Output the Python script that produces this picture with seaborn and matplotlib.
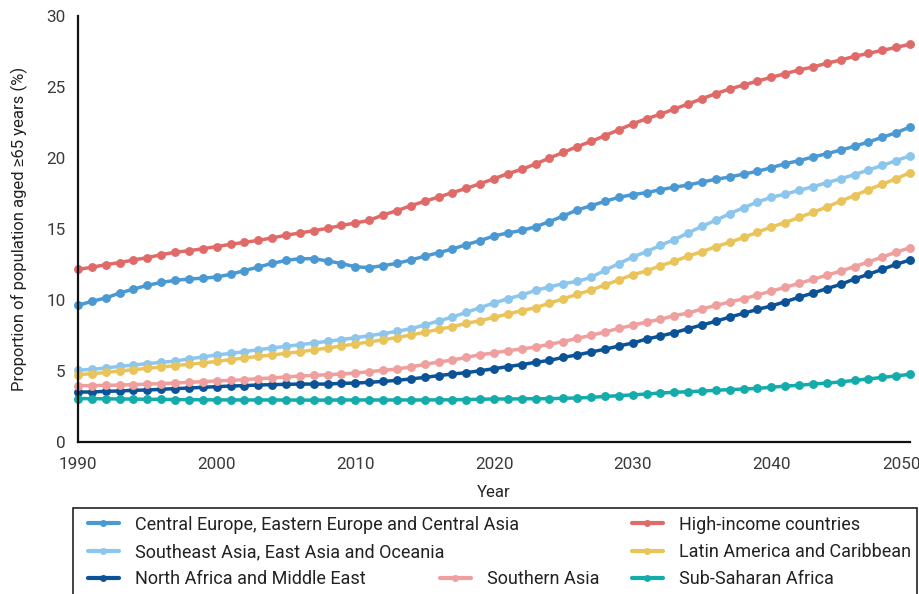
import matplotlib
matplotlib.use("Agg")
import matplotlib.pyplot as plt
from matplotlib.lines import Line2D
from matplotlib.patches import Rectangle
from matplotlib.transforms import ScaledTranslation
import numpy as np
import pandas as pd
import seaborn as sns

years = list(range(1990, 2051))

regions = [
    "Central Europe, Eastern Europe and Central Asia",
    "High-income countries",
    "Southeast Asia, East Asia and Oceania",
    "Latin America and Caribbean",
    "North Africa and Middle East",
    "Southern Asia",
    "Sub-Saharan Africa",
]

central_europe = [
    9.62, 9.91, 10.14, 10.49, 10.77, 11.03, 11.24, 11.38, 11.48, 11.53,
    11.62, 11.81, 12.07, 12.32, 12.58, 12.79, 12.91, 12.91, 12.75, 12.57,
    12.34, 12.28, 12.42, 12.58, 12.82, 13.08, 13.33, 13.59, 13.90, 14.18,
    14.51, 14.72, 14.90, 15.16, 15.52, 15.92, 16.34, 16.64, 16.95, 17.23,
    17.42, 17.56, 17.77, 17.94, 18.10, 18.31, 18.50, 18.66, 18.87, 19.06,
    19.32, 19.60, 19.81, 20.07, 20.30, 20.56, 20.82, 21.13, 21.46, 21.78,
    22.18,
]
high_income = [
    12.16, 12.30, 12.49, 12.63, 12.82, 12.98, 13.19, 13.36, 13.47, 13.61,
    13.76, 13.92, 14.06, 14.20, 14.37, 14.56, 14.72, 14.88, 15.05, 15.25,
    15.42, 15.61, 15.99, 16.29, 16.64, 16.95, 17.25, 17.56, 17.86, 18.19,
    18.54, 18.90, 19.20, 19.58, 20.00, 20.40, 20.80, 21.17, 21.57, 21.99,
    22.40, 22.77, 23.08, 23.45, 23.80, 24.18, 24.53, 24.86, 25.14, 25.42,
    25.68, 25.94, 26.20, 26.41, 26.67, 26.90, 27.16, 27.37, 27.58, 27.79,
    28.01,
]
southeast_asia = [
    5.05, 5.12, 5.21, 5.33, 5.42, 5.52, 5.61, 5.70, 5.85, 5.99,
    6.13, 6.24, 6.36, 6.50, 6.62, 6.74, 6.85, 6.97, 7.09, 7.21,
    7.34, 7.49, 7.63, 7.79, 7.98, 8.24, 8.52, 8.80, 9.13, 9.46,
    9.79, 10.09, 10.35, 10.68, 10.92, 11.15, 11.31, 11.60, 12.09, 12.56,
    13.03, 13.40, 13.85, 14.25, 14.72, 15.20, 15.61, 16.08, 16.50, 16.90,
    17.23, 17.46, 17.72, 17.98, 18.26, 18.54, 18.83, 19.15, 19.48, 19.81,
    20.16,
]
latin_america = [
    4.74, 4.81, 4.90, 5.00, 5.09, 5.19, 5.28, 5.38, 5.47, 5.56,
    5.68, 5.80, 5.92, 6.03, 6.13, 6.24, 6.36, 6.48, 6.62, 6.76,
    6.91, 7.04, 7.21, 7.35, 7.54, 7.72, 7.93, 8.12, 8.36, 8.54,
    8.78, 9.01, 9.25, 9.46, 9.77, 10.09, 10.40, 10.70, 11.06, 11.41,
    11.78, 12.04, 12.42, 12.72, 13.10, 13.40, 13.76, 14.06, 14.41, 14.77,
    15.15, 15.45, 15.82, 16.17, 16.55, 16.97, 17.35, 17.77, 18.15, 18.54,
    18.97,
]
north_africa = [
    3.52, 3.52, 3.57, 3.59, 3.64, 3.66, 3.71, 3.76, 3.80, 3.85,
    3.90, 3.94, 3.97, 4.01, 4.04, 4.06, 4.08, 4.08, 4.08, 4.13,
    4.15, 4.20, 4.27, 4.34, 4.44, 4.55, 4.67, 4.79, 4.88, 5.02,
    5.16, 5.31, 5.45, 5.61, 5.75, 5.96, 6.13, 6.34, 6.53, 6.76,
    6.97, 7.25, 7.46, 7.70, 7.98, 8.24, 8.50, 8.80, 9.06, 9.34,
    9.58, 9.88, 10.19, 10.49, 10.80, 11.10, 11.48, 11.81, 12.16, 12.51,
    12.82,
]
southern_asia = [
    3.97, 3.97, 3.99, 4.01, 4.04, 4.08, 4.11, 4.15, 4.20, 4.25,
    4.30, 4.34, 4.39, 4.46, 4.51, 4.58, 4.65, 4.69, 4.74, 4.79,
    4.86, 4.95, 5.05, 5.14, 5.28, 5.47, 5.63, 5.77, 5.96, 6.15,
    6.27, 6.43, 6.55, 6.69, 6.88, 7.07, 7.30, 7.51, 7.75, 8.00,
    8.22, 8.45, 8.64, 8.90, 9.08, 9.37, 9.62, 9.86, 10.09, 10.35,
    10.63, 10.89, 11.17, 11.46, 11.74, 12.04, 12.35, 12.68, 13.03, 13.36,
    13.69,
]
sub_saharan = [
    3.06, 3.05, 3.04, 3.03, 3.02, 3.01, 3.00, 2.99, 2.98, 2.97,
    2.97, 2.96, 2.96, 2.96, 2.96, 2.96, 2.95, 2.95, 2.95, 2.96,
    2.96, 2.96, 2.96, 2.96, 2.96, 2.96, 2.97, 2.97, 2.99, 3.01,
    3.03, 3.03, 3.04, 3.05, 3.05, 3.08, 3.10, 3.14, 3.21, 3.26,
    3.32, 3.38, 3.45, 3.50, 3.54, 3.59, 3.64, 3.69, 3.73, 3.78,
    3.85, 3.94, 3.99, 4.08, 4.15, 4.23, 4.34, 4.44, 4.55, 4.65,
    4.77,
]

series = [central_europe, high_income, southeast_asia, latin_america,
          north_africa, southern_asia, sub_saharan]

colors = ["#4A99D3", "#E06A68", "#8CC6EC", "#E9C45A",
          "#0B5297", "#EE9F9E", "#14ABAB"]
palette = dict(zip(regions, colors))

x_ticks = [1990, 2000, 2010, 2020, 2030, 2040, 2050]
y_ticks = [0, 5, 10, 15, 20, 25, 30]

df = pd.DataFrame({
    "Year": np.tile(years, len(regions)),
    "Value": np.concatenate(series),
    "Region": np.repeat(regions, len(years)),
})

sns.set_theme(style="white")
plt.rcParams["font.family"] = ["Roboto", "DejaVu Sans"]

fig = plt.figure(figsize=(9.2, 5.94), dpi=100)
W, H = 920, 594
ax = fig.add_axes([78 / W, 1 - 442 / H, (910 - 78) / W, (442 - 16) / H])

sns.lineplot(data=df, x="Year", y="Value", hue="Region", hue_order=regions,
             palette=palette, marker="o", markersize=6.4, markeredgewidth=0,
             linewidth=2.5, legend=False, ax=ax)
for ln in ax.lines:
    ln.set_clip_on(False)

ax.set_xlim(1990, 2050)
ax.set_ylim(0, 30)
ax.set_xticks(x_ticks)
ax.set_yticks(y_ticks)
ax.tick_params(axis="both", direction="out", length=6, width=1,
               color="#7a7a7a", labelcolor="#3a3a3a", labelsize=12.3, pad=3)
ax.tick_params(axis="x", pad=5)
for side in ("top", "right"):
    ax.spines[side].set_visible(False)
for side in ("left", "bottom"):
    ax.spines[side].set_color("#111111")
    ax.spines[side].set_linewidth(1.6)

# keep the last year label inside the canvas
last = ax.get_xticklabels()[-1]
last.set_transform(last.get_transform()
                   + ScaledTranslation(-9 / 100, 0, fig.dpi_scale_trans))

ax.set_xlabel("Year", fontsize=12, color="#222222", labelpad=9)
ax.set_ylabel("Proportion of population aged ≥65 years (%)", fontsize=12,
              color="#222222", labelpad=13)


def handle(color):
    return Line2D([], [], color=color, linewidth=3, marker="o",
                  markersize=5, markeredgewidth=0)


blank = Line2D([], [], linewidth=0, marker=None)

legend_kw = dict(frameon=False, fontsize=13, handlelength=1.7,
                 handletextpad=0.9, labelspacing=0.52, borderpad=0,
                 borderaxespad=0, loc="upper left", labelcolor="#222222")

col1 = [0, 2, 4]
col3 = [1, 3, 6]
top = 1 - 515.5 / H
fig.legend([handle(colors[i]) for i in col1], [regions[i] for i in col1],
           bbox_to_anchor=(88 / W, top), **legend_kw)
fig.legend([blank, blank, handle(colors[5])], ["", "", regions[5]],
           bbox_to_anchor=(440 / W, top), **legend_kw)
fig.legend([handle(colors[i]) for i in col3], [regions[i] for i in col3],
           bbox_to_anchor=(632 / W, top), **legend_kw)

fig.patches.append(Rectangle((72.5 / W, -0.05), (917 - 72.5) / W,
                             (1 - 507.5 / H) + 0.05, transform=fig.transFigure,
                             fill=False, edgecolor="#222222", linewidth=1.2))

fig.savefig("out.png", dpi=100)
